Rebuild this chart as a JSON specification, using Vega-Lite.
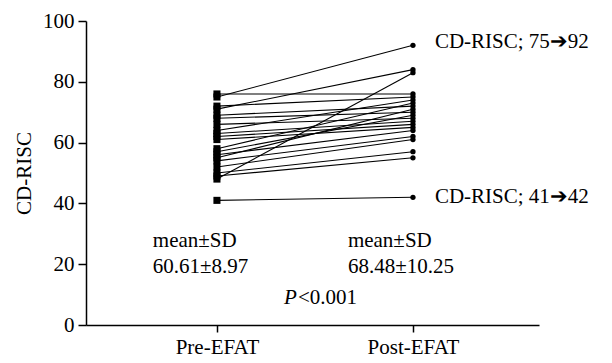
{
  "$schema": "https://vega.github.io/schema/vega-lite/v6.json",
  "width": 453,
  "height": 304,
  "autosize": {"type": "none"},
  "padding": {"left": 86, "top": 21, "right": 73, "bottom": 38},
  "background": "white",
  "config": {
    "view": {"stroke": null},
    "font": "Liberation Serif, Times New Roman, serif",
    "text": {"font": "Liberation Serif, Times New Roman, serif", "fill": "black"},
    "axis": {"grid": false, "domainColor": "black", "tickColor": "black", "labelColor": "black", "titleColor": "black", "labelFont": "Liberation Serif, Times New Roman, serif", "titleFont": "Liberation Serif, Times New Roman, serif", "domainWidth": 1.5, "tickWidth": 1.5}
  },
  "datasets": {
    "pairs": [
      {"id": 1, "pre": 75, "post": 92},
      {"id": 2, "pre": 76, "post": 76},
      {"id": 3, "pre": 72, "post": 75},
      {"id": 4, "pre": 71, "post": 84},
      {"id": 5, "pre": 69, "post": 72},
      {"id": 6, "pre": 68, "post": 70},
      {"id": 7, "pre": 66, "post": 68},
      {"id": 8, "pre": 64, "post": 74},
      {"id": 9, "pre": 63, "post": 67},
      {"id": 10, "pre": 62, "post": 66},
      {"id": 11, "pre": 61, "post": 65},
      {"id": 12, "pre": 58, "post": 73},
      {"id": 13, "pre": 57, "post": 69},
      {"id": 14, "pre": 56, "post": 64},
      {"id": 15, "pre": 55, "post": 71},
      {"id": 16, "pre": 54, "post": 62},
      {"id": 17, "pre": 52, "post": 61},
      {"id": 18, "pre": 50, "post": 57},
      {"id": 19, "pre": 49, "post": 55},
      {"id": 20, "pre": 48, "post": 83},
      {"id": 21, "pre": 41, "post": 42}
    ],
    "one": [{}]
  },
  "layer": [
    {
      "data": {"name": "pairs"},
      "mark": {"type": "rule", "color": "black", "strokeWidth": 1.1},
      "encoding": {
        "x": {"datum": 1, "type": "quantitative",
              "scale": {"domain": [0.332, 2.643], "nice": false, "zero": false},
              "axis": {"values": [1, 2], "labelExpr": "datum.value == 1 ? 'Pre-EFAT' : 'Post-EFAT'", "title": null, "labelFontSize": 21, "tickSize": 7, "labelPadding": 4}},
        "x2": {"datum": 2},
        "y": {"field": "pre", "type": "quantitative",
              "scale": {"domain": [0, 100], "nice": false},
              "axis": {"values": [0, 20, 40, 60, 80, 100], "title": "CD-RISC", "titleFontSize": 21, "titleFontWeight": "normal", "labelFontSize": 21, "tickSize": 8, "labelPadding": 4, "titlePadding": 8}},
        "y2": {"field": "post"}
      }
    },
    {
      "data": {"name": "pairs"},
      "mark": {"type": "square", "color": "black", "filled": true, "opacity": 1, "size": 50},
      "encoding": {
        "x": {"datum": 1, "type": "quantitative"},
        "y": {"field": "pre", "type": "quantitative"}
      }
    },
    {
      "data": {"name": "pairs"},
      "mark": {"type": "circle", "color": "black", "opacity": 1, "size": 28},
      "encoding": {
        "x": {"datum": 2, "type": "quantitative"},
        "y": {"field": "post", "type": "quantitative"}
      }
    },
    {
      "data": {"name": "one"},
      "mark": {"type": "text", "text": ["mean±SD", "60.61±8.97"], "align": "left", "baseline": "middle", "fontSize": 21, "lineHeight": 26},
      "encoding": {"x": {"datum": 0.673, "type": "quantitative"}, "y": {"datum": 27.6, "type": "quantitative"}}
    },
    {
      "data": {"name": "one"},
      "mark": {"type": "text", "text": ["mean±SD", "68.48±10.25"], "align": "left", "baseline": "middle", "fontSize": 21, "lineHeight": 26},
      "encoding": {"x": {"datum": 1.668, "type": "quantitative"}, "y": {"datum": 27.6, "type": "quantitative"}}
    },
    {
      "data": {"name": "one"},
      "mark": {"type": "text", "text": "P", "align": "left", "baseline": "middle", "fontSize": 21, "fontStyle": "italic"},
      "encoding": {"x": {"datum": 1.342, "type": "quantitative"}, "y": {"datum": 8.9, "type": "quantitative"}}
    },
    {
      "data": {"name": "one"},
      "mark": {"type": "text", "text": "<0.001", "align": "left", "baseline": "middle", "fontSize": 21},
      "encoding": {"x": {"datum": 1.413, "type": "quantitative"}, "y": {"datum": 8.9, "type": "quantitative"}}
    },
    {
      "data": {"name": "one"},
      "mark": {"type": "text", "text": "CD-RISC; 75➔92", "align": "left", "baseline": "middle", "fontSize": 21, "clip": false},
      "encoding": {"x": {"datum": 2.112, "type": "quantitative"}, "y": {"datum": 93, "type": "quantitative"}}
    },
    {
      "data": {"name": "one"},
      "mark": {"type": "text", "text": "CD-RISC; 41➔42", "align": "left", "baseline": "middle", "fontSize": 21, "clip": false},
      "encoding": {"x": {"datum": 2.112, "type": "quantitative"}, "y": {"datum": 42, "type": "quantitative"}}
    }
  ]
}
